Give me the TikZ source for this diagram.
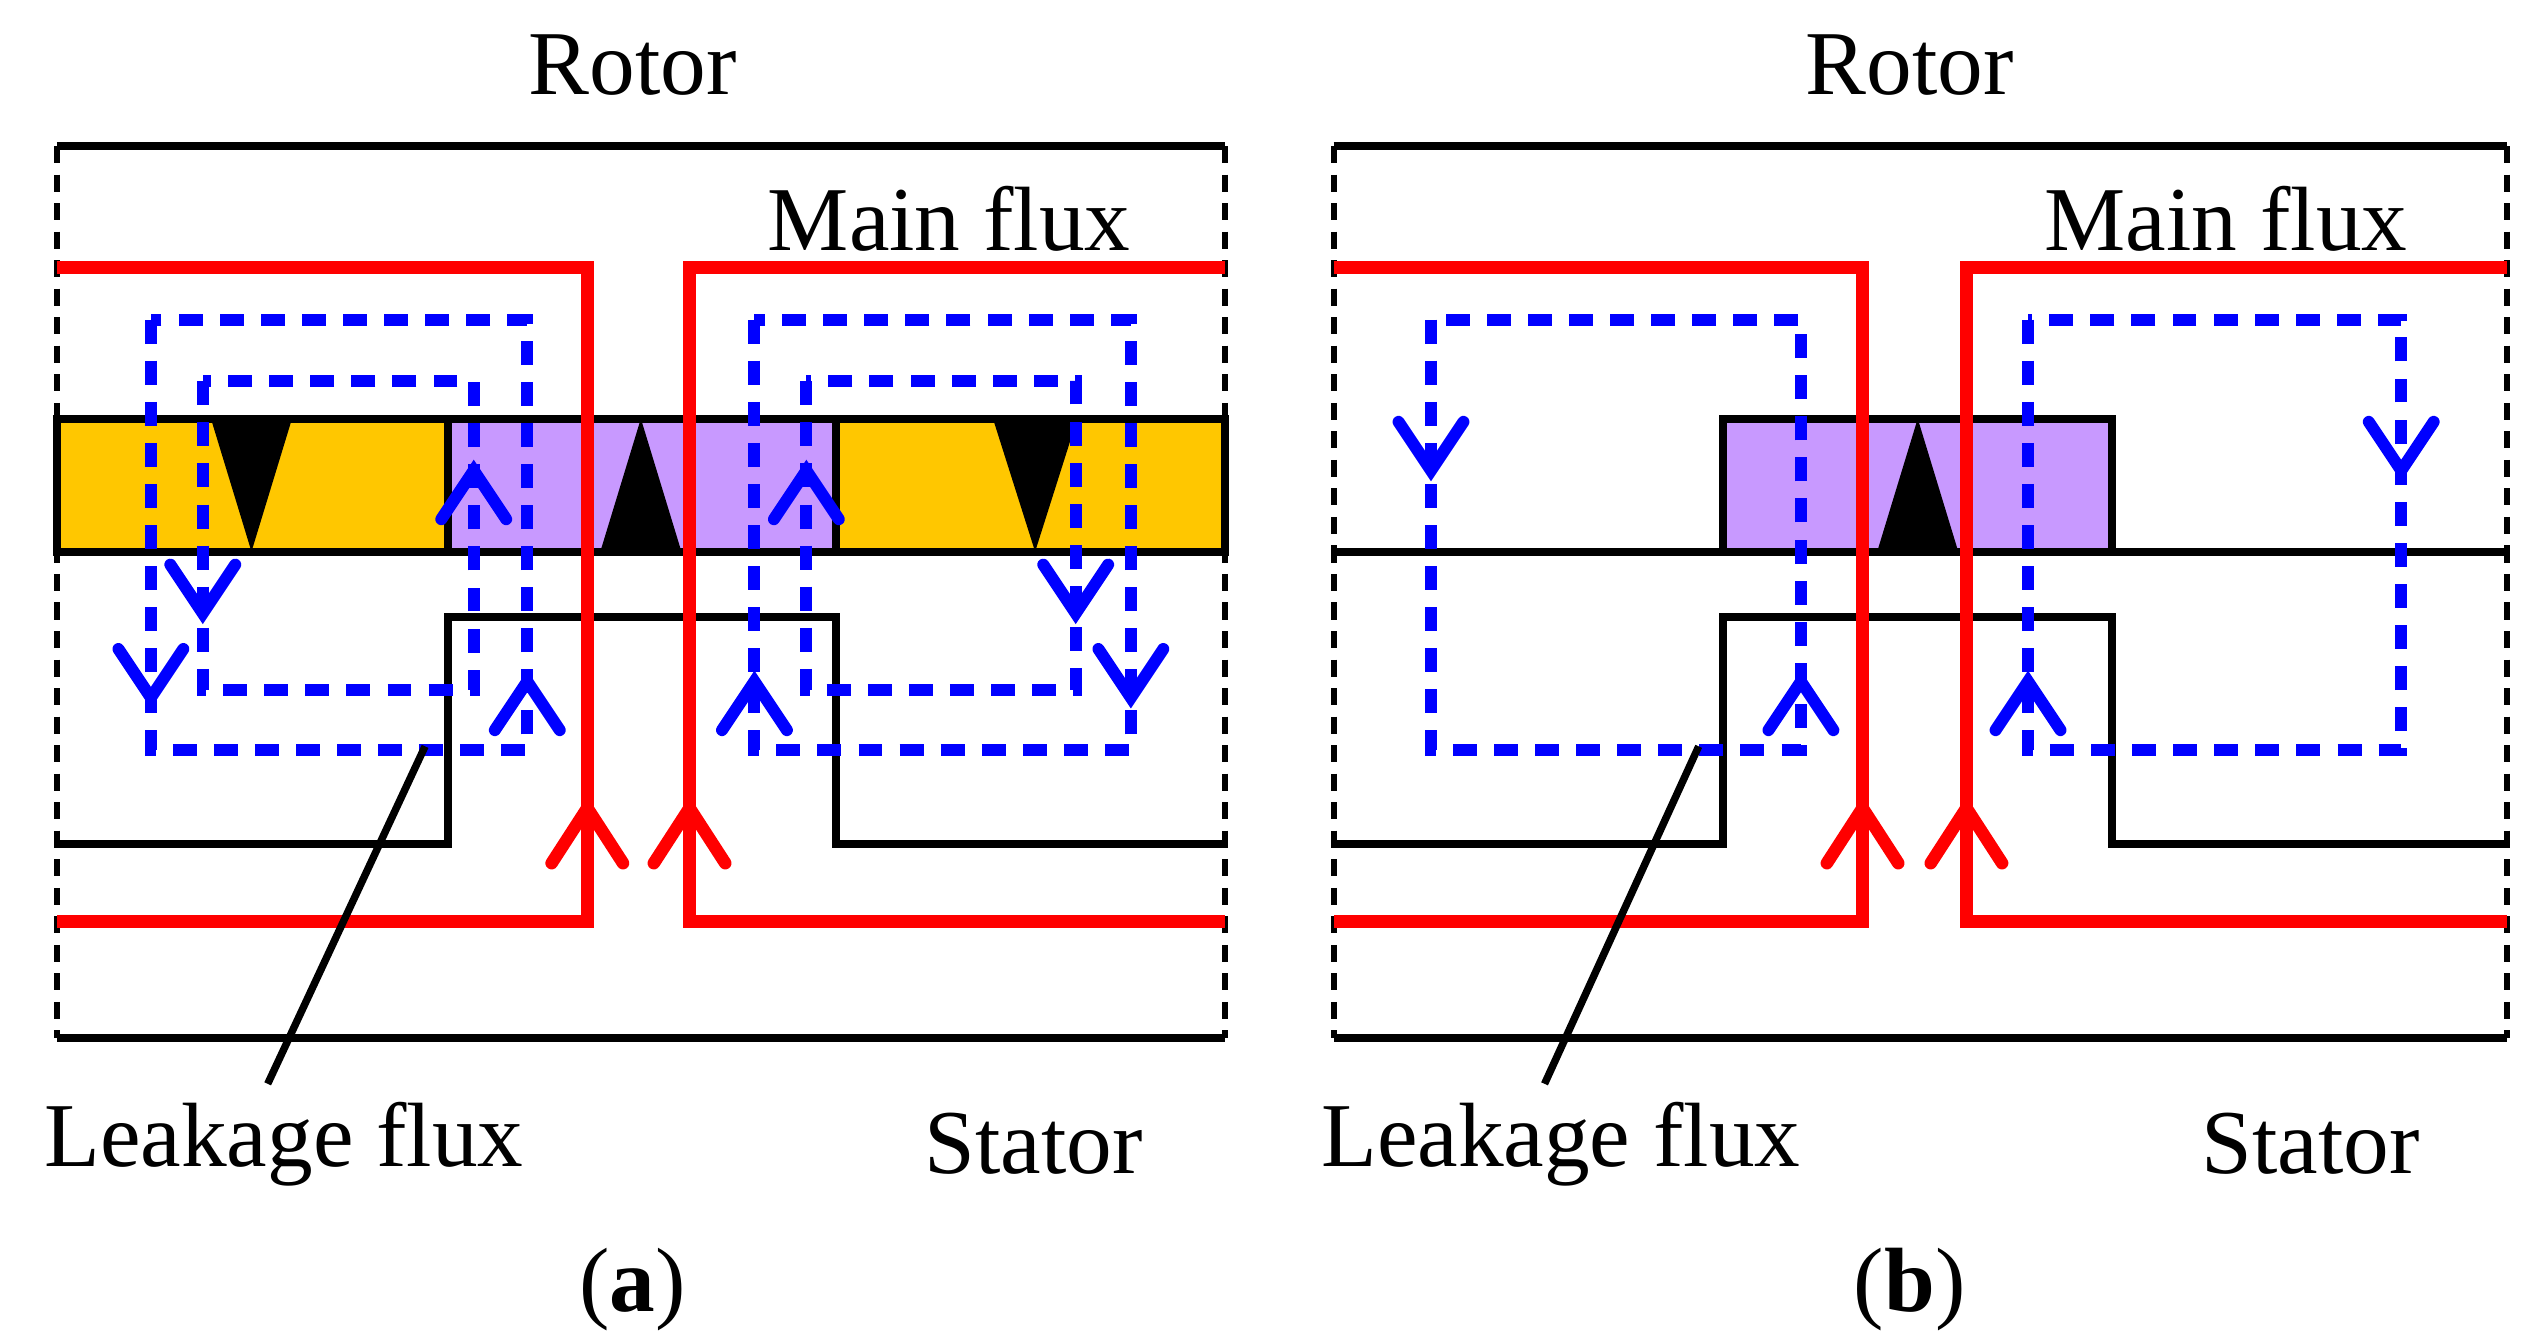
\documentclass[tikz,border=0pt]{standalone}
\usepackage{fontspec}
\setmainfont{Liberation Serif}
\usetikzlibrary{arrows.meta}
\definecolor{magyellow}{RGB}{255,199,0}
\definecolor{magpurple}{RGB}{200,153,255}
\definecolor{fluxblue}{RGB}{0,0,255}
\tikzset{%
  % styles for the drawing
  mainflux/.style = {draw=red, line width=2.2pt},
  leakflux/.style = {draw=fluxblue, line width=2.1pt, dash pattern=on 4.2pt off 3pt},
  boundary/.style = {draw=black, line width=1.4pt},
  sidewall/.style = {draw=black, line width=1.1pt, dash pattern=on 3pt off 2pt},
  label/.style    = {font=\fontsize{16}{19}\selectfont, inner sep=0pt},
}
% open V mark on a flux line: \vmark{style}{x}{y}{+1 up / -1 down}{half width}{height}
\newcommand{\vmark}[6]{\draw[#1, solid, line cap=round] (#2-#5,#3+#4*#6) -- (#2,#3) -- (#2+#5,#3+#4*#6);}
\begin{document}
\begin{tikzpicture}[x=0.01cm, y=-0.01cm]
  \useasboundingbox (0,0) rectangle (1560,823);
  % ---------------- panel (a) ----------------
  \fill[magyellow] (35,258) rectangle (276,340);
  \fill[magpurple] (276,258) rectangle (515,340);
  \fill[magyellow] (515,258) rectangle (755,340);
  \fill (130,258) -- (180,258) -- (155,340) -- cycle;
  \fill (370,340) -- (420,340) -- (395,258) -- cycle;
  \fill (612,258) -- (664,258) -- (638,340) -- cycle;
  \draw[boundary] (35,258) rectangle (755,340);
  \draw[boundary] (276,258) -- (276,340) (515,258) -- (515,340);
  \draw[boundary] (35,90) -- (755,90) (35,640) -- (755,640);
  \draw[sidewall] (35,90) -- (35,640) (755,90) -- (755,640);
  \draw[boundary] (35,520) -- (276,520) -- (276,380) -- (515,380) -- (515,520) -- (755,520);
  \draw[leakflux] (93,197) rectangle (325,462);
  \draw[leakflux] (125,235) rectangle (292,425);
  \draw[leakflux] (465,197) rectangle (697,462);
  \draw[leakflux] (497,235) rectangle (663,425);
  \vmark{leakflux}{93}{430}{-1}{20}{30}
  \vmark{leakflux}{125}{378}{-1}{20}{30}
  \vmark{leakflux}{292}{290}{1}{20}{30}
  \vmark{leakflux}{325}{420}{1}{20}{30}
  \vmark{leakflux}{465}{420}{1}{20}{30}
  \vmark{leakflux}{497}{290}{1}{20}{30}
  \vmark{leakflux}{663}{378}{-1}{20}{30}
  \vmark{leakflux}{697}{430}{-1}{20}{30}
  \draw[mainflux] (35,165) -- (362,165) -- (362,568) -- (35,568);
  \draw[mainflux] (755,165) -- (425,165) -- (425,568) -- (755,568);
  \vmark{mainflux}{362}{498}{1}{22}{34}
  \vmark{mainflux}{425}{498}{1}{22}{34}
  \draw[line width=1.3pt] (262,460) -- (165,668);
  \node[label] (rotora) at (390,40) {Rotor};
  \node[label] (maina) at (585,135) {Main flux};
  \node[label] (leaka) at (175,705) {Leakage flux};
  \node[label] (statora) at (637,705) {Stator};
  \node[label] (capa) at (390,795) {(\textbf{a})};
  % ---------------- panel (b) ----------------
  \fill[magpurple] (1062,258) rectangle (1302,340);
  \fill (1157,340) -- (1207,340) -- (1182,258) -- cycle;
  \draw[boundary] (1062,258) rectangle (1302,340);
  \draw[boundary] (822,340) -- (1545,340);
  \draw[boundary] (822,90) -- (1545,90) (822,640) -- (1545,640);
  \draw[sidewall] (822,90) -- (822,640) (1545,90) -- (1545,640);
  \draw[boundary] (822,520) -- (1062,520) -- (1062,380) -- (1302,380) -- (1302,520) -- (1545,520);
  \draw[leakflux] (882,197) rectangle (1110,462);
  \draw[leakflux] (1250,197) rectangle (1480,462);
  \vmark{leakflux}{882}{290}{-1}{20}{30}
  \vmark{leakflux}{1110}{420}{1}{20}{30}
  \vmark{leakflux}{1250}{420}{1}{20}{30}
  \vmark{leakflux}{1480}{290}{-1}{20}{30}
  \draw[mainflux] (822,165) -- (1148,165) -- (1148,568) -- (822,568);
  \draw[mainflux] (1545,165) -- (1212,165) -- (1212,568) -- (1545,568);
  \vmark{mainflux}{1148}{498}{1}{22}{34}
  \vmark{mainflux}{1212}{498}{1}{22}{34}
  \draw[line width=1.3pt] (1047,460) -- (952,668);
  \node[label] (rotorb) at (1177,40) {Rotor};
  \node[label] (mainb) at (1372,135) {Main flux};
  \node[label] (leakb) at (962,705) {Leakage flux};
  \node[label] (statorb) at (1424,705) {Stator};
  \node[label] (capb) at (1177,795) {(\textbf{b})};
\end{tikzpicture}
\end{document}
